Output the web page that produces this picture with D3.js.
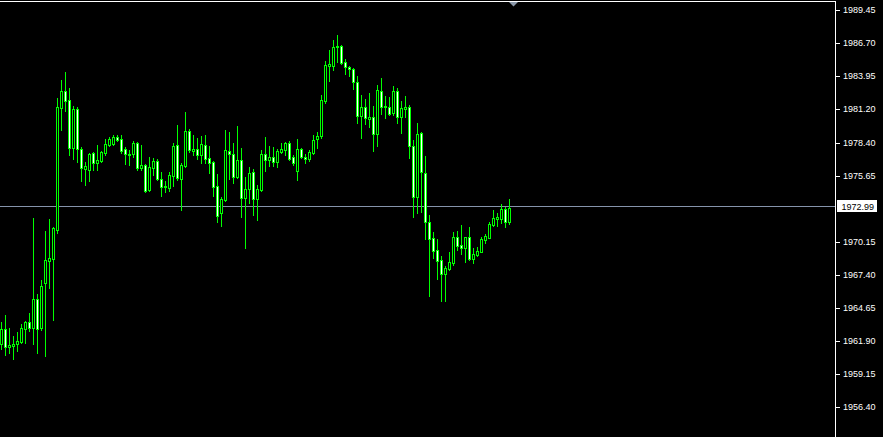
<!DOCTYPE html>
<html>
<head>
<meta charset="utf-8">
<script src="https://cdn.jsdelivr.net/npm/d3@7/dist/d3.min.js"></script>
<style>
  html, body { margin: 0; padding: 0; background: #000; overflow: hidden; }
  svg { display: block; }
</style>
</head>
<body>
<svg id="chart" width="883" height="437"></svg>
<script>
// ---- DATA (candles) ----
const opens = [
1961.62,1962.87,1961.37,1961.45,1961.62,1961.78,1962.87,1963.45,1962.95,1965.37,
1962.95,1966.70,1968.53,1968.70,1971.12,1981.28,1982.70,1981.95,1977.95,1981.20,
1977.87,1976.20,1976.12,1977.53,1976.70,1976.87,1977.53,1978.20,1978.28,1978.87,
1978.70,1977.87,1977.37,1977.45,1978.37,1976.28,1976.53,1974.45,1976.28,1976.87,
1975.37,1974.70,1974.62,1975.62,1978.20,1975.37,1976.45,1979.37,1977.70,1977.87,
1977.37,1978.20,1977.12,1976.78,1974.78,1972.53,1973.62,1977.70,1977.45,1975.53,
1976.95,1973.78,1974.53,1975.95,1973.70,1974.45,1977.45,1976.95,1977.20,1976.78,
1977.62,1977.78,1978.37,1977.20,1976.03,1977.87,1977.20,1977.03,1977.53,1978.70,
1978.95,1981.87,1984.78,1984.78,1986.37,1986.45,1985.12,1984.70,1984.53,1983.45,
1980.62,1981.37,1980.37,1980.53,1979.12,1982.70,1981.37,1981.37,1980.87,1982.70,
1980.53,1981.20,1981.37,1978.12,1973.87,1979.20,1975.87,1971.78,1970.45,1969.45,
1968.62,1967.45,1967.87,1968.37,1970.53,1969.87,1969.62,1970.53,1968.70,1969.03,
1969.28,1970.28,1970.45,1971.53,1972.03,1972.03,1972.87,1971.78
];
const highs = [
1963.45,1964.03,1962.95,1962.28,1962.62,1963.28,1963.53,1964.20,1972.12,1965.78,
1966.95,1971.03,1972.03,1971.37,1982.12,1983.62,1984.28,1982.95,1981.45,1981.37,
1978.03,1976.78,1977.53,1977.62,1978.20,1977.70,1978.70,1978.87,1979.03,1979.03,
1979.03,1978.03,1977.78,1978.53,1978.45,1978.20,1976.62,1977.20,1977.12,1977.03,
1975.95,1975.20,1975.95,1978.37,1979.87,1976.70,1980.95,1979.53,1979.03,1978.78,
1978.95,1979.03,1978.12,1976.87,1975.78,1973.87,1979.45,1979.28,1978.37,1979.78,
1977.95,1975.53,1976.37,1976.20,1974.87,1977.78,1978.87,1978.12,1978.03,1977.87,
1978.37,1978.45,1978.53,1977.37,1978.70,1977.95,1977.45,1977.78,1979.03,1979.28,
1982.37,1985.20,1986.12,1986.95,1987.37,1986.53,1985.37,1984.78,1984.62,1983.95,
1982.37,1982.03,1982.53,1981.45,1983.20,1983.78,1982.28,1982.20,1983.12,1982.95,
1981.87,1982.28,1981.53,1978.62,1980.03,1979.28,1977.28,1972.37,1970.95,1970.37,
1968.95,1968.12,1969.28,1970.95,1971.03,1971.53,1970.53,1971.37,1969.62,1969.70,
1970.53,1970.78,1971.78,1972.78,1972.53,1973.28,1973.03,1973.70
];
const lows = [
1961.20,1960.70,1960.87,1960.37,1961.03,1961.70,1961.70,1962.70,1961.62,1960.87,
1962.78,1960.62,1966.28,1963.62,1970.87,1979.45,1981.03,1977.37,1977.03,1976.78,
1975.20,1974.87,1975.20,1976.12,1976.12,1976.78,1977.37,1978.12,1978.20,1978.53,
1977.53,1976.62,1976.53,1977.20,1976.12,1976.12,1974.28,1974.37,1975.70,1975.28,
1973.95,1974.28,1974.37,1974.78,1975.28,1972.78,1976.37,1977.62,1977.37,1977.03,
1976.70,1976.70,1975.87,1973.95,1971.78,1971.45,1973.53,1975.37,1975.03,1975.45,
1972.20,1969.62,1973.37,1972.37,1971.95,1974.37,1976.03,1976.45,1976.45,1976.37,
1977.53,1977.37,1976.95,1976.53,1975.28,1977.12,1976.70,1976.87,1977.45,1977.95,
1978.78,1981.70,1983.53,1984.45,1985.12,1984.95,1984.12,1983.95,1982.87,1980.03,
1978.78,1979.95,1979.70,1977.70,1978.12,1980.78,1980.45,1980.70,1980.70,1980.03,
1979.20,1980.53,1977.12,1972.20,1972.53,1972.62,1970.37,1965.62,1968.78,1967.03,
1965.20,1965.20,1967.78,1968.20,1969.45,1969.12,1968.45,1968.62,1968.37,1968.95,
1969.28,1970.03,1970.45,1971.45,1971.45,1971.70,1971.37,1971.62
];
const closes = [
1962.87,1961.37,1961.53,1961.62,1961.87,1962.95,1963.45,1962.95,1965.37,1962.87,
1966.45,1968.62,1968.78,1971.28,1981.37,1982.70,1981.87,1977.95,1981.20,1977.87,
1976.28,1976.45,1977.45,1976.70,1976.95,1977.62,1978.28,1978.70,1978.87,1978.62,
1977.70,1977.45,1977.45,1978.37,1976.28,1976.53,1974.37,1976.37,1976.87,1975.37,
1974.70,1974.78,1975.70,1978.12,1975.45,1976.53,1979.37,1977.78,1977.87,1977.37,
1978.28,1977.03,1976.70,1974.70,1972.28,1973.70,1977.78,1977.45,1975.53,1976.95,
1973.78,1974.53,1975.87,1973.70,1974.53,1977.45,1976.95,1977.20,1976.78,1977.70,
1977.87,1978.37,1977.03,1976.70,1977.87,1977.20,1977.03,1977.62,1978.62,1978.95,
1981.95,1984.87,1984.95,1986.37,1986.45,1985.03,1984.70,1984.53,1983.45,1980.62,
1981.37,1980.45,1980.53,1979.12,1982.78,1981.37,1981.45,1980.78,1982.70,1980.53,
1981.28,1981.37,1978.12,1973.87,1979.12,1975.95,1971.78,1970.37,1969.37,1968.53,
1967.45,1967.95,1968.45,1970.53,1969.78,1969.62,1970.53,1968.70,1969.12,1969.37,
1970.37,1970.62,1971.62,1972.12,1972.20,1972.87,1971.78,1972.99
];
// the 1972.90 grid label is hidden behind the last-price box in the reference
const tickValues = [1989.45,1986.70,1983.95,1981.20,1978.40,1975.65,1970.15,1967.40,1964.65,1961.90,1959.15,1956.40,1953.65];
const tickLabels = ["1989.45","1986.70","1983.95","1981.20","1978.40","1975.65","1970.15","1967.40","1964.65","1961.90","1959.15","1956.40","1953.65"];
const lastPrice = 1972.99;
const lastPriceLabel = "1972.99";

// ---- LAYOUT ----
const W = 883, H = 437;
const plotRight = 835;
const svg = d3.select("#chart");
svg.append("rect").attr("width", W).attr("height", H).attr("fill", "#000");

const y = d3.scaleLinear().domain([1989.45, 1956.40]).range([10, 406.6]);
const x = d3.scaleLinear().domain([0, 127]).range([1, 509]);

const bars = d3.range(closes.length).map(i => ({
  i, o: opens[i], h: highs[i], l: lows[i], c: closes[i]
}));

const LIME = "#00ff00";
const g = svg.append("g").attr("shape-rendering", "crispEdges");

// price line
const ly = Math.floor(y(lastPrice)) - 1;
g.append("rect")
  .attr("x", 0).attr("y", ly)
  .attr("width", plotRight).attr("height", 1)
  .attr("fill", "#8593aa");

// wicks
g.selectAll("rect.wick").data(bars).join("rect")
  .attr("class", "wick")
  .attr("x", d => Math.round(x(d.i)))
  .attr("y", d => Math.round(y(d.h)))
  .attr("width", 1)
  .attr("height", d => Math.max(1, Math.round(y(d.l)) - Math.round(y(d.h)) + 1))
  .attr("fill", LIME);

// bodies (outline)
g.selectAll("rect.body").data(bars).join("rect")
  .attr("class", "body")
  .attr("x", d => Math.round(x(d.i)) - 1)
  .attr("y", d => Math.round(y(Math.max(d.o, d.c))))
  .attr("width", 3)
  .attr("height", d => Math.max(1, Math.round(y(Math.min(d.o, d.c))) - Math.round(y(Math.max(d.o, d.c))) + 1))
  .attr("fill", LIME);

// body interior: bull = black, bear = white
g.selectAll("rect.inner").data(bars.filter(d => {
    const t = Math.round(y(Math.max(d.o, d.c))), b = Math.round(y(Math.min(d.o, d.c)));
    return b - t >= 2;
  })).join("rect")
  .attr("class", "inner")
  .attr("x", d => Math.round(x(d.i)))
  .attr("y", d => Math.round(y(Math.max(d.o, d.c))) + 1)
  .attr("width", 1)
  .attr("height", d => Math.round(y(Math.min(d.o, d.c))) - Math.round(y(Math.max(d.o, d.c))) - 1)
  .attr("fill", d => d.c >= d.o ? "#000" : "#ffffff");

// frame: top line and right axis line
g.append("rect").attr("x", 0).attr("y", 1).attr("width", plotRight + 1).attr("height", 1).attr("fill", "#fff");
g.append("rect").attr("x", plotRight).attr("y", 1).attr("width", 1).attr("height", H).attr("fill", "#fff");

// shift marker triangle
svg.append("path")
  .attr("d", "M509,2 L518,2 L513.5,6.5 Z")
  .attr("fill", "#8a97a8");

// right price axis
const axis = d3.axisRight(y)
  .tickValues(tickValues)
  .tickFormat((d, i) => tickLabels[i])
  .tickSize(4)
  .tickPadding(3);
const ax = svg.append("g")
  .attr("transform", `translate(${plotRight + 1},0)`)
  .call(axis);
ax.select(".domain").remove();
ax.selectAll(".tick line").attr("stroke", "#fff").attr("shape-rendering", "crispEdges");
ax.selectAll(".tick text")
  .attr("fill", "#fff")
  .style("font-family", "'Liberation Sans', Arial, sans-serif")
  .style("font-size", "9px");

// last price label box
svg.append("rect")
  .attr("x", 837).attr("y", ly - 6).attr("width", 40).attr("height", 12)
  .attr("fill", "#fff").attr("shape-rendering", "crispEdges");
svg.append("text")
  .attr("x", 841.5).attr("y", ly + 3.5)
  .attr("fill", "#000")
  .style("font-family", "'Liberation Sans', Arial, sans-serif")
  .style("font-size", "9px")
  .text(lastPriceLabel);
</script>
</body>
</html>
